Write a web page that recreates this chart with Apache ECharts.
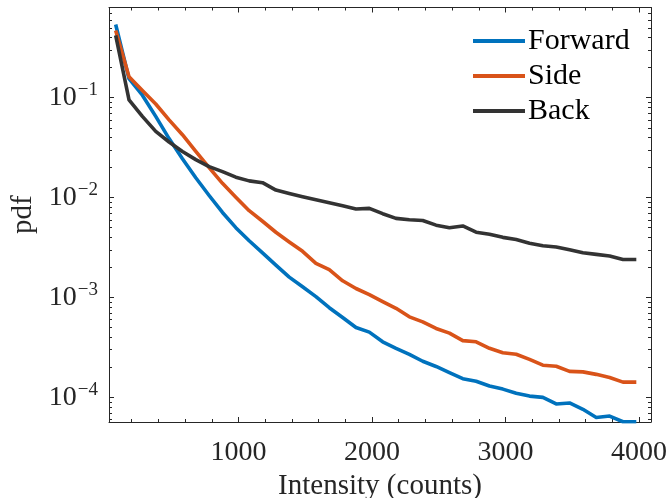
<!DOCTYPE html>
<html>
<head>
<meta charset="utf-8">
<script src="https://cdn.jsdelivr.net/npm/echarts@6/dist/echarts.min.js"></script>
<style>
  html, body { margin: 0; padding: 0; background: #fff; }
  #chart { width: 667px; height: 498px; }
</style>
</head>
<body>
<div id="chart"></div>
<script>
// bin centres (counts)
const intensity = [80, 180, 280, 380, 480, 580, 680, 780, 880, 980,
  1080, 1180, 1280, 1380, 1480, 1580, 1680, 1780, 1880, 1980,
  2080, 2180, 2280, 2380, 2480, 2580, 2680, 2780, 2880, 2980,
  3080, 3180, 3280, 3380, 3480, 3580, 3680, 3780, 3880, 3980];

const forward = [0.54, 0.155, 0.106, 0.065, 0.039, 0.0245, 0.0158, 0.0105, 0.0071, 0.0050,
  0.0037, 0.0028, 0.00211, 0.00160, 0.00128, 0.00102, 0.00079, 0.00063, 0.00050, 0.00045,
  0.00036, 0.00031, 0.00027, 0.00023, 0.000204, 0.000177, 0.000154, 0.000145, 0.000130, 0.000121,
  0.000110, 0.000103, 0.000100, 0.000086, 0.000088, 0.000076, 0.000063, 0.000065, 0.000057, 0.000057];

const side = [0.47, 0.162, 0.118, 0.0865, 0.060, 0.0426, 0.029, 0.020, 0.0139, 0.0101,
  0.0074, 0.0058, 0.0045, 0.0036, 0.0029, 0.0022, 0.0019, 0.00147, 0.00123, 0.00107,
  0.00091, 0.00078, 0.00064, 0.00057, 0.00049, 0.00044, 0.00037, 0.00036, 0.00031, 0.00028,
  0.00027, 0.00024, 0.00021, 0.000205, 0.000182, 0.00018, 0.00017, 0.000158, 0.000142, 0.000142];

const back = [0.42, 0.095, 0.065, 0.046, 0.036, 0.029, 0.024, 0.0204, 0.0182, 0.0160,
  0.0147, 0.0141, 0.0119, 0.0110, 0.0102, 0.0095, 0.0089, 0.0083, 0.0077, 0.0078,
  0.0069, 0.0062, 0.0060, 0.0059, 0.0053, 0.0050, 0.0052, 0.0045, 0.0043, 0.0040,
  0.0038, 0.0035, 0.0033, 0.0032, 0.0030, 0.0028, 0.0027, 0.0026, 0.0024, 0.0024];

const xMajor = [1000, 2000, 3000, 4000];
const xMinor = [200, 400, 600, 800, 1200, 1400, 1600, 1800, 2200, 2400, 2600, 2800,
  3200, 3400, 3600, 3800];
const yMajor = [1e-4, 1e-3, 1e-2, 1e-1];
const yMinor = [6e-5, 7e-5, 8e-5, 9e-5,
  2e-4, 3e-4, 4e-4, 5e-4, 6e-4, 7e-4, 8e-4, 9e-4,
  2e-3, 3e-3, 4e-3, 5e-3, 6e-3, 7e-3, 8e-3, 9e-3,
  2e-2, 3e-2, 4e-2, 5e-2, 6e-2, 7e-2, 8e-2, 9e-2,
  2e-1, 3e-1, 4e-1, 5e-1, 6e-1, 7e-1];
const yExponent = { '0.0001': '−4', '0.001': '−3', '0.01': '−2', '0.1': '−1' };

const xMin = 30, xMax = 4090;
const yMin = 5.67e-5, yMax = 0.8;

const axisColor = '#262626';
const serif = '"Liberation Serif", "DejaVu Serif", serif';
const gridBox = { left: 109, right: 16, top: 7.5, bottom: 76, containLabel: false, outerBoundsMode: 'none' };

function xAx(grid, pos, ticks, len, opts) {
  return Object.assign({
    type: 'value', gridIndex: grid, position: pos, min: xMin, max: xMax,
    axisLine: { show: grid === 0, onZero: false, lineStyle: { color: axisColor, width: 1 } },
    axisTick: { show: true, inside: true, length: len, customValues: ticks, lineStyle: { color: axisColor, width: 1 } },
    axisLabel: { show: false },
    splitLine: { show: false }
  }, opts || {});
}
function yAx(grid, pos, ticks, len, opts) {
  return Object.assign({
    type: 'log', logBase: 10, gridIndex: grid, position: pos, min: yMin, max: yMax,
    axisLine: { show: grid === 0, onZero: false, lineStyle: { color: axisColor, width: 1 } },
    axisTick: { show: true, inside: true, length: len, customValues: ticks, lineStyle: { color: axisColor, width: 1 } },
    axisLabel: { show: false },
    splitLine: { show: false }
  }, opts || {});
}

const chart = echarts.init(document.getElementById('chart'), null, { renderer: 'canvas' });

const option = {
  animation: false,
  backgroundColor: '#fff',
  grid: [Object.assign({}, gridBox), Object.assign({}, gridBox)],
  legend: {
    orient: 'vertical',
    left: 468, top: 21,
    itemWidth: 52, itemHeight: 14, itemGap: 5,
    icon: 'path://M0,0 L52,0 L52,4 L0,4 Z',
    textStyle: { fontFamily: serif, fontSize: 30, color: '#000', lineHeight: 30, padding: [0, 0, 0, -2] },
    data: ['Forward', 'Side', 'Back']
  },
  xAxis: [
    xAx(0, 'bottom', xMajor, 5, {
      name: 'Intensity (counts)', nameLocation: 'middle', nameGap: 46,
      nameTextStyle: { fontFamily: serif, fontSize: 29, color: axisColor },
      axisLabel: {
        show: true, customValues: xMajor, margin: 17, fontFamily: serif, fontSize: 28, color: axisColor,
        formatter: function (v) { return String(v); }
      }
    }),
    xAx(0, 'top', xMajor, 5),
    xAx(1, 'bottom', xMinor, 3),
    xAx(1, 'top', xMinor, 3)
  ],
  yAxis: [
    yAx(0, 'left', yMajor, 5, {
      name: 'pdf', nameLocation: 'middle', nameGap: 68,
      nameTextStyle: { fontFamily: serif, fontSize: 29, color: axisColor },
      axisLabel: {
        show: true, customValues: yMajor, margin: 11,
        formatter: function (v) {
          const e = yExponent[String(v)] || String(Math.round(Math.log10(v))).replace('-', '−');
          return '{b|10}{s|' + e + '}';
        },
        rich: {
          b: { fontFamily: serif, fontSize: 28, color: axisColor },
          s: { fontFamily: serif, fontSize: 19, color: axisColor, padding: [0, 0, 15, 1] }
        }
      }
    }),
    yAx(0, 'right', yMajor, 5),
    yAx(1, 'left', yMinor, 3),
    yAx(1, 'right', yMinor, 3)
  ],
  series: [
    { name: 'Forward', color: '#0072BD', data: forward },
    { name: 'Side', color: '#D95319', data: side },
    { name: 'Back', color: '#333333', data: back }
  ].map(function (s) {
    return {
      name: s.name, type: 'line', xAxisIndex: 0, yAxisIndex: 0,
      symbol: 'none', showSymbol: false,
      itemStyle: { color: s.color },
      lineStyle: { color: s.color, width: 3.6, join: 'round' },
      data: intensity.map(function (x, i) { return [x, s.data[i]]; })
    };
  })
};

chart.setOption(option);
</script>
</body>
</html>
